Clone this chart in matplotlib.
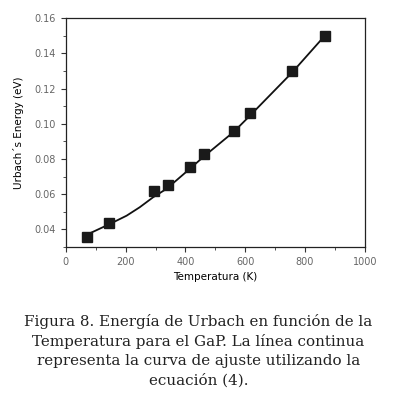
import matplotlib
matplotlib.use("Agg")
import matplotlib.pyplot as plt
from matplotlib.ticker import MultipleLocator

# data
temp = [70, 144, 294, 341, 415, 462, 562, 615, 756, 866]
energy = [0.0358, 0.0438, 0.0621, 0.0655, 0.0753, 0.0827, 0.0958, 0.1060, 0.1300, 0.1500]

# fitted curve (eq. 4)
fit_t = [80, 147, 203, 247, 292, 337, 415, 462, 562, 615, 756, 866]
fit_e = [0.0378, 0.0431, 0.0478, 0.0526, 0.0583, 0.0631, 0.0745, 0.0815, 0.0955, 0.1045, 0.1290, 0.1500]

caption = ("Figura 8. Energía de Urbach en función de la\n"
           "Temperatura para el GaP. La línea continua\n"
           "representa la curva de ajuste utilizando la\n"
           "ecuación (4).")

fig = plt.figure(figsize=(3.97, 3.94), dpi=100)
ax = fig.add_axes([0.166, 0.373, 0.753, 0.581])

ax.plot(fit_t, fit_e, color="#111111", lw=1.3)
ax.plot(temp, energy, ls="none", marker="s", ms=7, color="#1a1a1a")

ax.set_xlim(0, 1000)
ax.set_ylim(0.03, 0.16)
ax.xaxis.set_major_locator(MultipleLocator(200))
ax.xaxis.set_minor_locator(MultipleLocator(100))
ax.yaxis.set_minor_locator(MultipleLocator(0.01))
ax.set_yticks([0.04, 0.06, 0.08, 0.10, 0.12, 0.14, 0.16])
ax.yaxis.set_major_formatter(plt.FuncFormatter(lambda v, p: "%.2f" % v))
ax.tick_params(which="both", direction="out", top=False, right=False,
               labelsize=7, labelcolor="#666666", color="#333333")
ax.tick_params(which="major", length=3.5, width=0.8)
ax.tick_params(which="minor", length=2, width=0.6)
for s in ax.spines.values():
    s.set_linewidth(0.9)
    s.set_color("#222222")

ax.set_xlabel("Temperatura (K)", fontsize=7.5, labelpad=4)
ax.set_ylabel("Urbach´s Energy (eV)", fontsize=7.5, labelpad=8)

fig.text(0.5, 0.11, caption, ha="center", va="center", family="DejaVu Serif",
         fontsize=10.9, color="#222222", linespacing=1.45)

fig.savefig("out.png", dpi=100)
